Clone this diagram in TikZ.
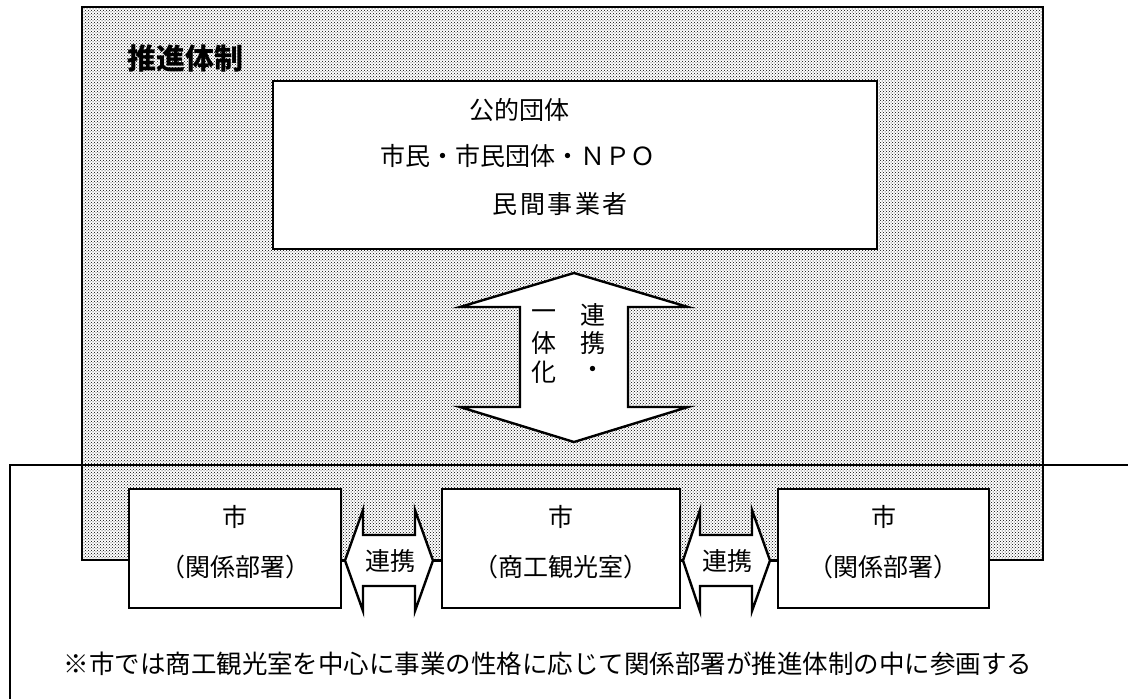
\documentclass[tikz,border=0pt]{standalone}
\usepackage{fontspec}
\setmainfont{Noto Sans CJK JP}
\newfontfamily\jp{Noto Sans CJK JP}
\usetikzlibrary{patterns}
\begin{document}
\begin{tikzpicture}[x=1pt,y=-1pt,
  boxline/.style={line width=2.4pt, draw=black},
  whitebox/.style={boxline, fill=white, rectangle, inner sep=0pt},
  dotarea/.style={rectangle, inner sep=0pt, line width=2.2pt, draw=black, fill=white,
     postaction={pattern=crosshatch dots, pattern color=black}},
  arrowshape/.style={line width=2.4pt, draw=black, fill=white, line join=miter},
  lbl/.style={font=\jp\fontsize{25}{25}\selectfont, inner sep=0pt},
  title/.style={font=\jp\bfseries\fontsize{29}{29}\selectfont, inner sep=0pt},
  note/.style={font=\jp\fontsize{25.5}{25.5}\selectfont, inner sep=0pt},
]
\useasboundingbox (0,0) rectangle (1128,699);
\fill[white] (0,0) rectangle (1128,699);

% outer dotted area
\node[dotarea, minimum width=961pt, minimum height=553pt] (area) at (562.5,283.5) {};
\node[title] (ttl) at (185,58) {推進体制};

% lower frame (open on right and bottom)
\coordinate (fbl) at (10,699);
\coordinate (ftl) at (10,465);
\coordinate (ftr) at (1128,465);
\draw[line width=2.6pt] (fbl) -- (ftl) -- (ftr);

% upper box
\node[whitebox, minimum width=604pt, minimum height=168pt] (top) at (575,165) {};
\node[lbl] (t1) at (519,110) {公的団体};
\node[lbl] (t2) at (518,156) {市民・市民団体・ＮＰＯ};
\node[lbl] (t3) at (560,204) {\addfontfeature{LetterSpace=10}民間事業者};

% vertical double arrow
\draw[arrowshape] (574,273) -- (688,307) -- (628,307) -- (628,407) -- (688,407) -- (574,442)
  -- (460,407) -- (520,407) -- (520,307) -- (460,307) -- cycle;
\node[lbl] (v1) at (593,315) {連};
\node[lbl] (v2) at (593,343) {携};
\node[lbl] (v3) at (593,372) {・};
\node[lbl] (v4) at (544,315) {一};
\node[lbl] (v5) at (544,343) {体};
\node[lbl] (v6) at (544,372) {化};

% lower boxes
\node[whitebox, minimum width=212pt, minimum height=119pt] (b1) at (235,548.5) {};
\node[whitebox, minimum width=238pt, minimum height=119pt] (b2) at (561,548.5) {};
\node[whitebox, minimum width=211pt, minimum height=119pt] (b3) at (883.5,548.5) {};
\node[lbl] (b1a) at (235,517) {市};
\node[lbl] (b1b) at (235,567) {（関係部署）};
\node[lbl] (b2a) at (561,517) {市};
\node[lbl] (b2b) at (561,567) {（商工観光室）};
\node[lbl] (b3a) at (883.5,517) {市};
\node[lbl] (b3b) at (883.5,567) {（関係部署）};

% horizontal double arrows
\coordinate (h1l) at (345,560.5);
\coordinate (h1r) at (433,560.5);
\draw[arrowshape] (h1l) -- (363,510) -- (363,535) -- (415,535) -- (415,510) -- (h1r)
  -- (415,611) -- (415,586) -- (363,586) -- (363,611) -- cycle;
\node[lbl] (h1t) at (390,561) {連携};
\coordinate (h2l) at (683,560.5);
\coordinate (h2r) at (770,560.5);
\draw[arrowshape] (h2l) -- (700,510) -- (700,535) -- (752,535) -- (752,510) -- (h2r)
  -- (752,611) -- (752,586) -- (700,586) -- (700,611) -- cycle;
\node[lbl] (h2t) at (727,561) {連携};
\draw[line width=2pt] (b1.east |- h1l) -- (h1l);
\draw[line width=2pt] (h1r) -- (b2.west |- h1r);
\draw[line width=2pt] (b2.east |- h2l) -- (h2l);
\draw[line width=2pt] (h2r) -- (b3.west |- h2r);

% note
\node[note] (nt) at (548,664) {※市では商工観光室を中心に事業の性格に応じて関係部署が推進体制の中に参画する};
\end{tikzpicture}
\end{document}
